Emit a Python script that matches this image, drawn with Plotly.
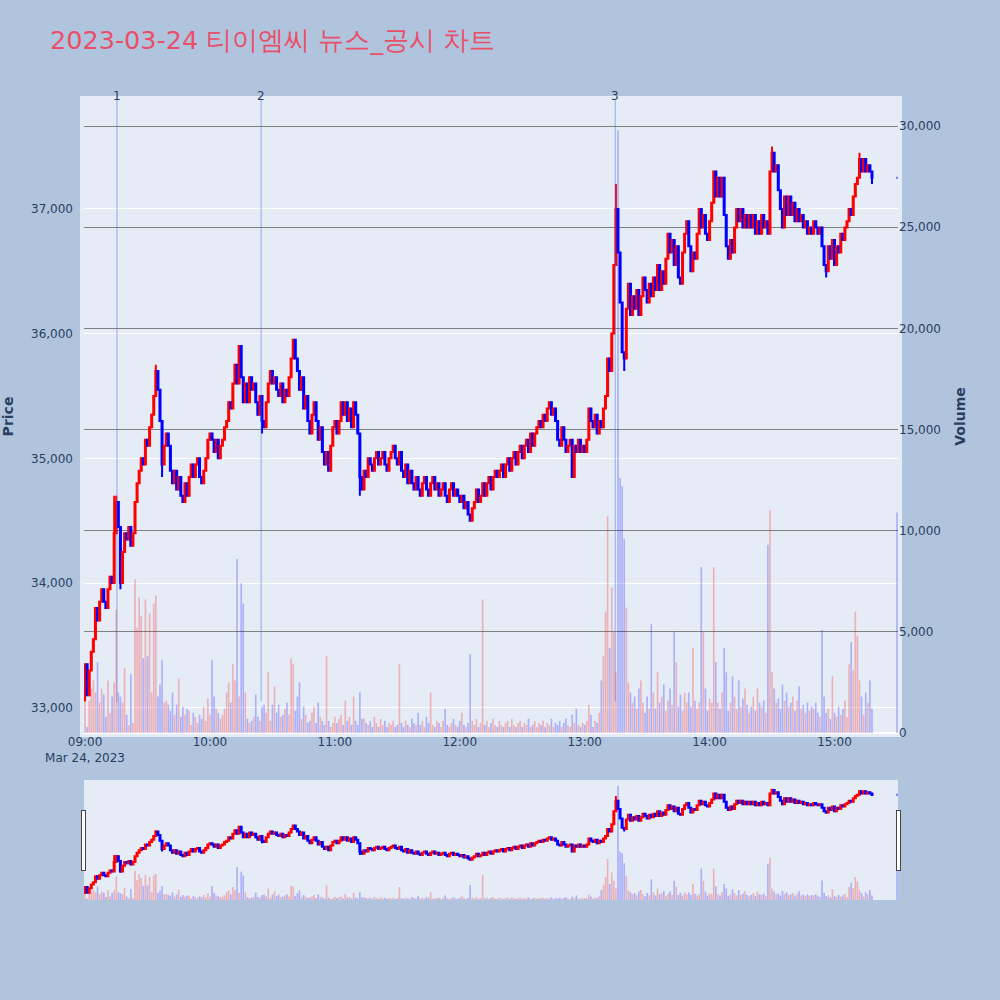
import plotly.graph_objects as go
from plotly.subplots import make_subplots
import pandas as pd

title_text = "2023-03-24 티이엠씨 뉴스_공시 차트"
session_start = "2023-03-24 09:00"
first_open = 33250

# 1-minute closing prices, 09:00 .. 15:18 (rows of 10 minutes)
closes = [
    33350, 33100, 33300, 33450, 33550, 33800, 33700, 33850, 33950, 33850,  # 09:00
    33800, 33950, 34050, 34000, 34400, 34650, 34450, 34000, 34250, 34400,  # 09:10
    34350, 34450, 34300, 34400, 34650, 34800, 34900, 35000, 34950, 35150,  # 09:20
    35100, 35250, 35350, 35500, 35700, 35550, 35300, 34950, 35100, 35200,  # 09:30
    35100, 34900, 34800, 34900, 34750, 34850, 34700, 34650, 34800, 34700,  # 09:40
    34850, 34950, 34850, 34950, 35000, 34850, 34800, 34900, 35000, 35150,  # 09:50
    35200, 35150, 35050, 35150, 35000, 35100, 35150, 35250, 35300, 35450,  # 10:00
    35400, 35600, 35750, 35600, 35900, 35650, 35450, 35600, 35450, 35650,  # 10:10
    35550, 35600, 35450, 35350, 35500, 35300, 35250, 35450, 35600, 35700,  # 10:20
    35600, 35650, 35550, 35500, 35600, 35450, 35550, 35500, 35650, 35800,  # 10:30
    35950, 35800, 35700, 35550, 35650, 35400, 35500, 35300, 35200, 35350,  # 10:40
    35450, 35300, 35150, 35250, 35050, 34950, 35050, 34900, 35100, 35250,  # 10:50
    35300, 35200, 35300, 35450, 35350, 35450, 35300, 35400, 35250, 35450,  # 11:00
    35350, 35200, 34850, 34750, 34900, 34850, 35000, 34950, 34900, 35000,  # 11:10
    35050, 34950, 35000, 35050, 34950, 34900, 35000, 35050, 35100, 35000,  # 11:20
    34950, 35050, 34900, 34850, 34950, 34800, 34900, 34800, 34750, 34850,  # 11:30
    34750, 34700, 34800, 34850, 34750, 34700, 34800, 34850, 34750, 34800,  # 11:40
    34700, 34750, 34800, 34700, 34650, 34750, 34800, 34700, 34750, 34700,  # 11:50
    34650, 34700, 34600, 34650, 34550, 34500, 34600, 34650, 34750, 34650,  # 12:00
    34700, 34800, 34700, 34800, 34850, 34750, 34850, 34900, 34850, 34900,  # 12:10
    34950, 34850, 34950, 35000, 34900, 35000, 35050, 34950, 35050, 35100,  # 12:20
    35000, 35100, 35150, 35050, 35200, 35100, 35200, 35250, 35300, 35250,  # 12:30
    35350, 35300, 35400, 35450, 35350, 35400, 35300, 35150, 35100, 35250,  # 12:40
    35150, 35050, 35100, 35150, 34850, 35100, 35050, 35150, 35050, 35100,  # 12:50
    35050, 35150, 35400, 35300, 35250, 35350, 35200, 35300, 35250, 35400,  # 13:00
    35500, 35800, 35700, 36000, 36550, 37000, 36650, 36250, 35850, 35800,  # 13:10
    36200, 36400, 36150, 36300, 36200, 36350, 36150, 36300, 36450, 36350,  # 13:20
    36250, 36400, 36300, 36450, 36350, 36550, 36350, 36500, 36400, 36600,  # 13:30
    36800, 36650, 36750, 36550, 36700, 36450, 36400, 36650, 36800, 36900,  # 13:40
    36700, 36500, 36650, 36600, 36800, 37000, 36850, 36950, 36800, 36750,  # 13:50
    36900, 37050, 37300, 37100, 37250, 37100, 37250, 36950, 36700, 36600,  # 14:00
    36750, 36650, 36850, 37000, 36900, 37000, 36850, 36950, 36850, 36950,  # 14:10
    36850, 36950, 36800, 36900, 36800, 36950, 36850, 36900, 36800, 37300,  # 14:20
    37450, 37300, 37350, 37150, 37000, 36850, 37100, 36950, 37100, 36950,  # 14:30
    37050, 36900, 37000, 36900, 36950, 36850, 36900, 36800, 36850, 36800,  # 14:40
    36900, 36850, 36800, 36850, 36700, 36550, 36500, 36700, 36600, 36750,  # 14:50
    36550, 36700, 36650, 36800, 36750, 36850, 36900, 37000, 36950, 37100,  # 15:00
    37200, 37250, 37400, 37300, 37400, 37300, 37350, 37300, 37250,         # 15:10
]

# 1-minute volumes, same minutes
volumes = [
    2100, 300, 1600, 2200, 2600, 2000, 3500, 1500, 2200, 1900,
    800, 2600, 1000, 1800, 2500, 6100, 2000, 1800, 1500, 3200,
    900, 400, 2900, 500, 7600, 5200, 6700, 5800, 3700, 6600,
    3800, 5900, 2000, 6400, 6800, 1800, 2400, 3600, 1500, 1600,
    1400, 1100, 2000, 900, 1400, 2700, 800, 1300, 900, 1200,
    1100, 400, 1000, 800, 500, 900, 700, 1300, 600, 1700,
    900, 3600, 1800, 1200, 1000, 700, 900, 1200, 2000, 2500,
    1500, 3400, 2600, 8600, 1800, 7400, 6400, 2000, 700, 500,
    600, 800, 1900, 800, 600, 1300, 1400, 1000, 3000, 600,
    1400, 2300, 1000, 1400, 800, 900, 1200, 1500, 900, 3700,
    3400, 1100, 1800, 2500, 700, 1300, 900, 500, 600, 1000,
    1300, 500, 1500, 800, 600, 400, 3800, 600, 300, 500,
    800, 500, 700, 900, 400, 1600, 600, 800, 400, 1800,
    600, 400, 2000, 700, 700, 500, 400, 600, 300, 800,
    500, 300, 700, 400, 600, 300, 500, 400, 600, 300,
    400, 3400, 500, 300, 600, 400, 300, 700, 500, 400,
    1000, 400, 600, 300, 800, 500, 2000, 400, 300, 600,
    500, 300, 600, 1200, 400, 300, 500, 700, 400, 300,
    600, 1000, 400, 300, 500, 3900, 600, 400, 700, 300,
    500, 6600, 400, 600, 300, 500, 700, 400, 300, 600,
    400, 300, 500, 600, 300, 700, 400, 300, 500, 600,
    300, 500, 400, 700, 300, 400, 600, 300, 500, 400,
    600, 300, 500, 400, 700, 300, 500, 400, 600, 300,
    500, 700, 400, 300, 900, 500, 1200, 400, 300, 500,
    400, 600, 1400, 900, 300, 600, 500, 1000, 2600, 3800,
    6000, 10700, 4200, 7200, 5000, 3000, 29800, 12600, 12200, 9600,
    6200, 2500, 2000, 1500, 1800, 1200, 2200, 2600, 1500, 1000,
    1800, 1200, 5400, 2000, 1200, 3000, 1500, 1800, 2400, 1100,
    1600, 2200, 1400, 5000, 3500, 1300, 1900, 1100, 2000, 1500,
    2000, 1300, 4200, 1600, 1200, 1500, 8200, 5000, 2200, 1100,
    1700, 1500, 8200, 3500, 1500, 1200, 2000, 4200, 3000, 1100,
    1500, 2800, 1800, 1200, 2600, 1300, 1700, 2200, 1400, 1000,
    1300, 1800, 1100, 2200, 1500, 1300, 1600, 1000, 9300, 11000,
    3000, 2200, 1500, 1700, 1200, 2400, 1600, 2000, 1300, 1500,
    1800, 1100, 1600, 2300, 1200, 1400, 1000, 1500, 1100, 1300,
    1200, 1500, 1000, 800, 5100, 1800, 1000, 1200, 700, 2800,
    1000, 800, 1300, 900, 1200, 1600, 800, 3400, 4500, 3100,
    6000, 4800, 2600, 1800, 900, 2000, 1500, 2600, 1200,
]

# wick extremes (minute index -> price)
wick_high = {14: 34700, 15: 34700, 34: 35750, 74: 35900, 100: 35950, 255: 37200,
             330: 37500, 372: 37450}
wick_low = {0: 33050, 17: 33950, 37: 34850, 85: 35200, 117: 34900, 132: 34700, 185: 34500,
            234: 34850, 259: 35700, 356: 36450, 378: 37200}

# closing auction
auction_time = "2023-03-24 15:30"
auction_price = 37250
auction_volume = 10900

# news markers
news_times = ["2023-03-24 09:15:20", "2023-03-24 10:24:35", "2023-03-24 13:14:40"]
news_labels = ["1", "2", "3"]

x_range = ["2023-03-24 08:59:30", "2023-03-24 15:30:30"]
price_range = [32798, 37873]

# ---- build OHLC ----
times = list(pd.date_range(session_start, periods=len(closes), freq="min"))
opens = [first_open] + closes[:-1]
highs, lows = [], []
for i, (o, c) in enumerate(zip(opens, closes)):
    highs.append(max(o, c, wick_high.get(i, 0)))
    lows.append(min(o, c, wick_low.get(i, 10 ** 9)))

times.append(pd.Timestamp(auction_time))
opens.append(auction_price)
closes_all = closes + [auction_price]
highs.append(auction_price)
lows.append(auction_price)
vols = volumes + [auction_volume]
volume_range = [0, max(vols) * 1.05]

bar_colors = ["rgba(255,0,0,0.25)" if c > o else "rgba(0,0,255,0.25)"
              for o, c in zip(opens, closes_all)]

fig = make_subplots(specs=[[{"secondary_y": True}]])
fig.add_trace(go.Candlestick(
    x=times, open=opens, high=highs, low=lows, close=closes_all,
    increasing=dict(line=dict(color="red", width=2), fillcolor="red"),
    decreasing=dict(line=dict(color="blue", width=2), fillcolor="blue"),
    name="Price", showlegend=False,
), secondary_y=False)
fig.add_trace(go.Bar(
    x=times, y=vols, marker=dict(color=bar_colors, line=dict(width=0)),
    name="Volume", showlegend=False,
), secondary_y=True)

# slightly larger light panel behind the plotting area
pad_x = 4 / 814
pad_y = 4 / 628
fig.add_shape(type="rect", xref="paper", yref="paper", x0=-pad_x, x1=1 + pad_x,
              y0=-pad_y, y1=1 + pad_y, fillcolor="#E5ECF6", line=dict(width=0), layer="below")

for t, lab in zip(news_times, news_labels):
    fig.add_shape(type="line", xref="x", yref="y", x0=t, x1=t,
                  y0=min(lows), y1=price_range[1],
                  line=dict(color="royalblue", width=1), opacity=0.5)
    fig.add_annotation(x=t, xref="x", y=1, yref="paper", text=lab, showarrow=False,
                       yanchor="middle", yshift=4, font=dict(size=12, color="#2a3f5f"))

fig.update_layout(
    width=1000, height=1000,
    font=dict(family="DejaVu Sans", color="#2a3f5f", size=12),
    paper_bgcolor="lightsteelblue",
    plot_bgcolor="#E5ECF6",
    margin=dict(l=84, r=102, t=100, b=100),
    title=dict(text=title_text, x=0.05, xanchor="left", y=0.96, yanchor="middle",
               font=dict(size=25.5, color="#E8506A", family="DejaVu Sans")),
    showlegend=False,
    bargap=0.2,
)
fig.update_xaxes(domain=[0, 1], range=x_range, showgrid=False, rangeslider=dict(visible=True))
fig.update_yaxes(title_text="<b>Price</b>", range=price_range, dtick=1000, tickformat=",",
                 showgrid=True, gridcolor="white", automargin=False,
                 ticklabelstandoff=10, secondary_y=False)
fig.update_yaxes(title_text="<b>Volume</b>", range=volume_range, dtick=5000, tickformat=",",
                 showgrid=True, gridcolor="gray", automargin=False, secondary_y=True)

fig.write_html("out.html", config={"displayModeBar": False},
               post_script="document.body.style.margin='0';")
